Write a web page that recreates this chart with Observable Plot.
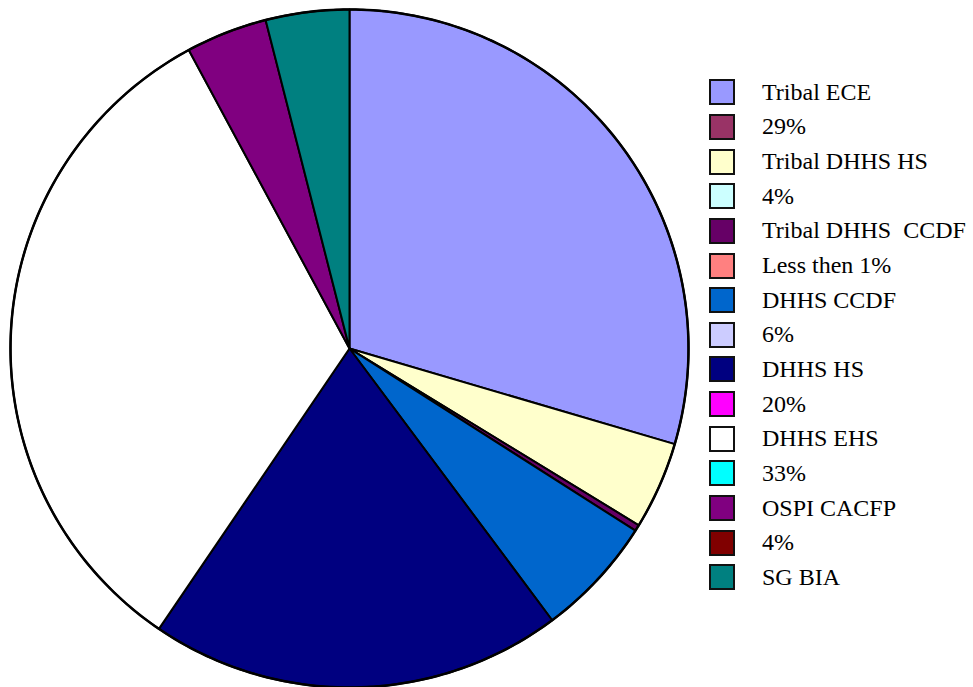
<!DOCTYPE html>
<html>
<head>
<meta charset="utf-8">
<script src="https://cdn.jsdelivr.net/npm/d3@7"></script>
<script src="https://cdn.jsdelivr.net/npm/@observablehq/plot@0.6"></script>
<style>
  html, body { margin: 0; padding: 0; background: #fff; }
  #wrap { position: relative; width: 973px; height: 687px; overflow: hidden; }
  #chart { position: absolute; left: 0; top: 0; }
  #legend { position: absolute; left: 709px; top: 75px; font-family: "Liberation Serif", serif; font-size: 24px; color: #000; }
  .row { display: flex; align-items: center; height: 34.65px; white-space: pre; }
  .sw { width: 22px; height: 22px; border: 2.5px solid #111; box-sizing: content-box; margin-right: 27px; flex: none; }
</style>
</head>
<body>
<div id="wrap"><div id="chart"></div><div id="legend"></div></div>
<script>
// Pie slices, clockwise from 12 o'clock
const sliceNames = ["Tribal ECE", "Tribal DHHS HS", "Tribal DHHS  CCDF", "DHHS CCDF", "DHHS HS", "DHHS EHS", "OSPI CACFP", "SG BIA"];
const sliceValues = [29.7, 4.2, 0.3, 5.8, 19.8, 32.8, 3.9, 4.0];
const sliceColors = ["#9999FF", "#FFFFCC", "#660066", "#0066CC", "#000080", "#FFFFFF", "#800080", "#008080"];

// Legend entries (as they appear in the original, including stray percentage entries)
const legendLabels = ["Tribal ECE", "29%", "Tribal DHHS HS", "4%", "Tribal DHHS  CCDF", "Less then 1%", "DHHS CCDF", "6%", "DHHS HS", "20%", "DHHS EHS", "33%", "OSPI CACFP", "4%", "SG BIA"];
const legendColors = ["#9999FF", "#993366", "#FFFFCC", "#CCFFFF", "#660066", "#FF8080", "#0066CC", "#CCCCFF", "#000080", "#FF00FF", "#FFFFFF", "#00FFFF", "#800080", "#800000", "#008080"];

const R = 1;
const arcs = d3.pie().sort(null).value(d => d.value)(sliceNames.map((name, i) => ({name, value: sliceValues[i], color: sliceColors[i]})));

function wedge(a) {
  const pts = [[0, 0]];
  const n = Math.max(2, Math.ceil((a.endAngle - a.startAngle) / 0.01));
  for (let k = 0; k <= n; k++) {
    const t = a.startAngle + (a.endAngle - a.startAngle) * k / n;
    pts.push([R * Math.sin(t), -R * Math.cos(t)]);
  }
  pts.push([0, 0]);
  return {type: "Feature", properties: {name: a.data.name, color: a.data.color}, geometry: {type: "Polygon", coordinates: [pts]}};
}
const features = arcs.map(wedge);
const circlePts = d3.range(0, 361).map(k => [R * Math.sin(k * Math.PI / 180), -R * Math.cos(k * Math.PI / 180)]);
const outline = {type: "Feature", properties: {}, geometry: {type: "Polygon", coordinates: [circlePts]}};

const chart = Plot.plot({
  width: 973,
  height: 687,
  marginLeft: 10,
  marginTop: 9,
  marginRight: 285,
  marginBottom: 0,
  projection: {type: "identity", domain: outline},
  marks: [
    Plot.geo(features, {fill: d => d.properties.color, stroke: "#000", strokeWidth: 2, strokeLinejoin: "round"}),
    Plot.geo([outline], {fill: "none", stroke: "#000", strokeWidth: 2.5})
  ]
});
document.getElementById("chart").appendChild(chart);

const leg = document.getElementById("legend");
legendLabels.forEach((lab, i) => {
  const row = document.createElement("div");
  row.className = "row";
  const sw = document.createElement("div");
  sw.className = "sw";
  sw.style.background = legendColors[i];
  const tx = document.createElement("span");
  tx.textContent = lab;
  row.appendChild(sw);
  row.appendChild(tx);
  leg.appendChild(row);
});
</script>
</body>
</html>
